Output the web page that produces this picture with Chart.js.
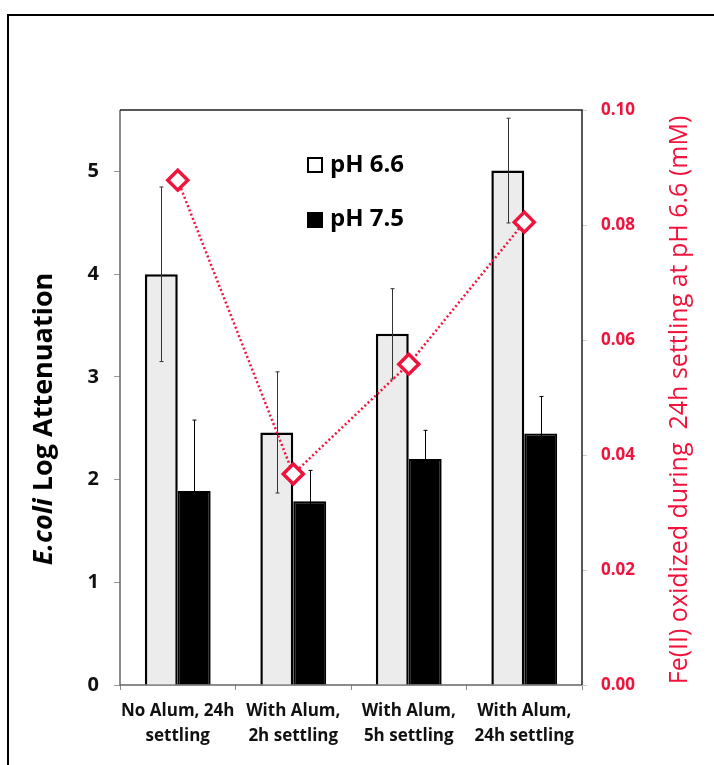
<!DOCTYPE html>
<html>
<head>
<meta charset="utf-8">
<script src="https://cdn.jsdelivr.net/npm/chart.js@4.4.0/dist/chart.umd.min.js"></script>
<style>
  html, body { margin: 0; padding: 0; background: #fff; }
  canvas { display: block; }
</style>
</head>
<body>
<canvas id="chart" width="714" height="765"></canvas>
<script>
const categories = [
  ['No Alum, 24h', 'settling'],
  ['With Alum,', '2h settling'],
  ['With Alum,', '5h settling'],
  ['With Alum,', '24h settling'],
];
const ph66 = [4.0, 2.46, 3.42, 5.01];
const ph66Err = [0.85, 0.59, 0.44, 0.51];
const ph75 = [1.89, 1.79, 2.2, 2.45];
const ph75Err = [0.69, 0.3, 0.28, 0.36];
const feOxidized = [0.0878, 0.0367, 0.0558, 0.0805];

const RED = '#f0143c';
const FONT = "'Open Sans', 'DejaVu Sans', sans-serif";

const frame = {
  id: 'frame',
  beforeDraw(chart) {
    const c = chart.ctx;
    c.save();
    c.fillStyle = '#fff';
    c.fillRect(0, 0, chart.width, chart.height);
    c.strokeStyle = '#000';
    c.lineWidth = 2;
    c.strokeRect(8, 15, 800, 800);
    c.restore();
  },
  beforeDatasetsDraw(chart) {
    const { ctx: c, chartArea: a } = chart;
    c.save();
    c.lineWidth = 1.5;
    c.strokeStyle = '#666';
    c.beginPath();
    c.moveTo(a.left, a.top); c.lineTo(a.left, a.bottom); c.lineTo(a.right, a.bottom);
    c.stroke();
    c.strokeStyle = '#222';
    c.beginPath();
    c.moveTo(a.left, a.top); c.lineTo(a.right, a.top); c.lineTo(a.right, a.bottom);
    c.stroke();
    c.restore();
  },
};

// error bars drawn right after each bar dataset
const errorBars = {
  id: 'errorBars',
  afterDatasetDraw(chart, args) {
    const ds = chart.data.datasets[args.index];
    if (!ds.errors) return;
    const c = chart.ctx;
    const y = chart.scales.y;
    c.save();
    c.strokeStyle = ds.errorColor;
    c.lineWidth = 1;
    args.meta.data.forEach((bar, i) => {
      const top = y.getPixelForValue(ds.data[i] + ds.errors[i]);
      const bot = y.getPixelForValue(ds.data[i] - ds.errors[i]);
      const x = Math.round(bar.x) + 0.5;
      c.beginPath();
      c.moveTo(x, top); c.lineTo(x, bot);
      c.moveTo(x - 2, top); c.lineTo(x + 2, top);
      c.moveTo(x - 2, bot); c.lineTo(x + 2, bot);
      c.stroke();
    });
    c.restore();
  },
};

const labels = {
  id: 'labels',
  afterDraw(chart) {
    const c = chart.ctx;
    c.save();

    // legend inside the plot
    c.font = `bold 24px ${FONT}`;
    c.textBaseline = 'middle';
    c.lineWidth = 2;
    c.strokeStyle = '#000';
    c.fillStyle = '#fff';
    c.fillRect(308, 158, 14, 14);
    c.strokeRect(308, 158, 14, 14);
    c.fillStyle = '#000';
    c.fillRect(307, 212, 16, 16);
    c.fillText('pH 6.6', 330, 165);
    c.fillText('pH 7.5', 330, 219);

    // left axis title, "E.coli" in italics
    c.save();
    c.translate(44, 419);
    c.rotate(-Math.PI / 2);
    c.textBaseline = 'middle';
    c.textAlign = 'left';
    const italic = `italic bold 27px ${FONT}`;
    const bold = `bold 27px ${FONT}`;
    c.font = italic;
    const w1 = c.measureText('E.coli').width;
    c.font = bold;
    const w2 = c.measureText(' Log Attenuation').width;
    const x0 = -(w1 + w2) / 2;
    c.font = italic;
    c.fillText('E.coli', x0, 0);
    c.font = bold;
    c.fillText(' Log Attenuation', x0 + w1, 0);
    c.restore();

    // right axis title
    c.save();
    c.translate(680, 400);
    c.rotate(-Math.PI / 2);
    c.textAlign = 'center';
    c.textBaseline = 'middle';
    c.font = `25px ${FONT}`;
    c.fillStyle = RED;
    c.fillText('Fe(II) oxidized during  24h settling at pH 6.6 (mM)', 0, 0);
    c.restore();

    c.restore();
  },
};

new Chart(document.getElementById('chart').getContext('2d'), {
  data: {
    labels: categories,
    datasets: [
      {
        type: 'line',
        label: 'Fe(II)',
        data: feOxidized,
        yAxisID: 'y1',
        order: 0,
        borderColor: RED,
        borderWidth: 2.5,
        borderDash: [2, 2.5],
        pointStyle: 'rectRot',
        pointRadius: 10,
        pointBorderWidth: 3.5,
        pointBackgroundColor: '#fff',
        pointBorderColor: RED,
      },
      {
        type: 'bar',
        label: 'pH 6.6',
        data: ph66,
        errors: ph66Err,
        errorColor: '#333',
        yAxisID: 'y',
        order: 1,
        backgroundColor: '#ececec',
        borderColor: '#000',
        borderWidth: 2.5,
      },
      {
        type: 'bar',
        label: 'pH 7.5',
        data: ph75,
        errors: ph75Err,
        errorColor: '#000',
        yAxisID: 'y',
        order: 1,
        backgroundColor: '#000',
        borderColor: '#000',
        borderWidth: 2,
      },
    ],
  },
  options: {
    responsive: false,
    devicePixelRatio: 1,
    animation: false,
    layout: { padding: { top: 110, left: 0, right: 0, bottom: 0 } },
    datasets: {
      bar: { barPercentage: 1, categoryPercentage: 0.57 },
    },
    plugins: {
      legend: { display: false },
      tooltip: { enabled: false },
    },
    scales: {
      x: {
        grid: { drawOnChartArea: false, tickLength: 5, color: '#888' },
        border: { display: false },
        ticks: {
          autoSkip: false,
          color: '#111',
          padding: 9,
          maxRotation: 0,
          font: { family: FONT, size: 17, weight: 'bold', lineHeight: 1.47 },
        },
        afterFit(s) { s.height = 80; },
      },
      y: {
        position: 'left',
        min: 0,
        max: 5.6,
        grid: { drawOnChartArea: false, tickLength: 6, color: '#999' },
        border: { display: false },
        ticks: {
          stepSize: 1,
          includeBounds: false,
          color: '#111',
          padding: 15,
          font: { family: FONT, size: 20, weight: 'bold' },
        },
        afterFit(s) { s.width = 120; },
      },
      y1: {
        position: 'right',
        min: 0,
        max: 0.1,
        grid: { drawOnChartArea: false, tickLength: 5, color: '#ccc' },
        border: { display: false },
        ticks: {
          stepSize: 0.02,
          color: RED,
          padding: 14,
          font: { family: FONT, size: 17, weight: 'bold' },
          callback: v => v.toFixed(2),
        },
        afterFit(s) { s.width = 132; },
      },
    },
  },
  plugins: [frame, errorBars, labels],
});
</script>
</body>
</html>
